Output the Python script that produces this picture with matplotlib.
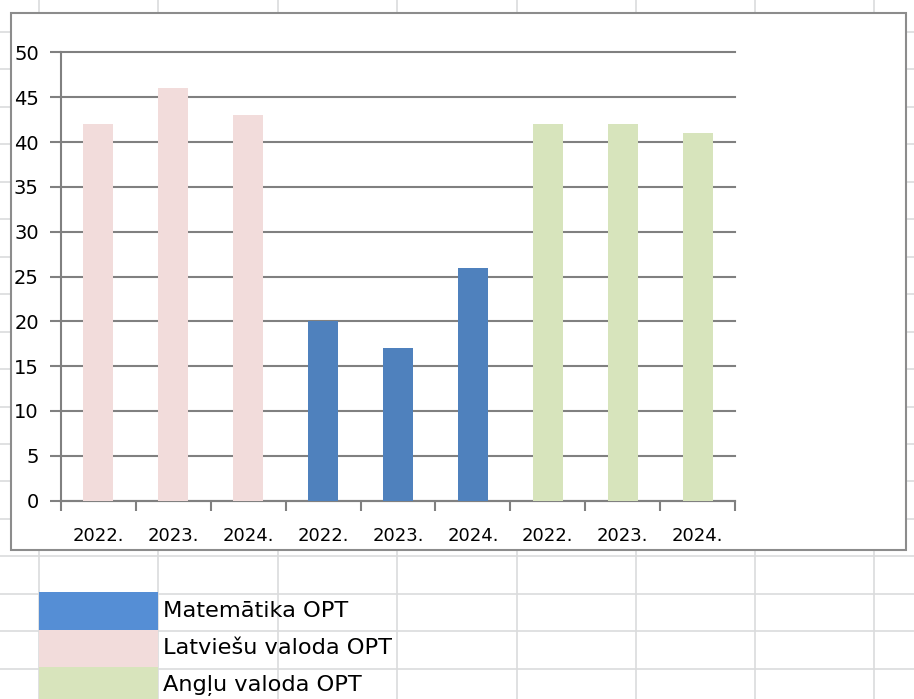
import matplotlib.pyplot as plt
from matplotlib.patches import Rectangle
from matplotlib.lines import Line2D

W, H = 914, 699

years = ["2022.", "2023.", "2024."] * 3
values = [42, 46, 43, 20, 17, 26, 42, 42, 41]
series = ["Matemātika OPT", "Latviešu valoda OPT", "Angļu valoda OPT"]
bar_colors = ["#F2DCDB"] * 3 + ["#4F81BD"] * 3 + ["#D7E4BC"] * 3
legend_colors = ["#558ED5", "#F2DCDB", "#D8E4BC"]
yticks = list(range(0, 55, 5))

plt.rcParams['font.family'] = ['DejaVu Sans']

fig = plt.figure(figsize=(W / 100, H / 100), dpi=100)
fig.patch.set_facecolor("white")


def fx(px):
    return px / W


def fy(py):
    return 1 - py / H


# spreadsheet cell grid behind the chart
col_x = [39, 158, 278, 397, 517, 636, 755, 874]
row_y = [32 + 37.45 * k for k in range(18)]
for x in col_x:
    fig.add_artist(Line2D([fx(x), fx(x)], [0, 1], color="#DADCDD", lw=1.2, zorder=0))
for y in row_y:
    fig.add_artist(Line2D([0, 1], [fy(y), fy(y)], color="#DADCDD", lw=1.2, zorder=0))

# chart area
fig.add_artist(Rectangle((fx(11), fy(550)), fx(906) - fx(11), fy(13) - fy(550),
                         facecolor="white", edgecolor="#8C8C8C", lw=1.5, zorder=1))

ax = fig.add_axes([fx(61), fy(500.5), fx(735) - fx(61), fy(52.5) - fy(500.5)], zorder=2)
ax.patch.set_alpha(0)

xs = list(range(len(values)))
ax.bar(xs, values, width=0.4, color=bar_colors, zorder=3)

ax.set_xlim(-0.5, len(values) - 0.5)
ax.set_ylim(0, 50)
ax.set_yticks(yticks)
ax.yaxis.grid(True, color="#808080", lw=1.5)
for gl in ax.get_ygridlines():
    gl.set_clip_on(False)
ax.set_axisbelow(True)

ax.set_xticks(xs)
ax.set_xticklabels(years)
ax.set_xticks([x - 0.5 for x in range(len(values) + 1)], minor=True)
ax.tick_params(axis="x", which="major", length=0, pad=19, labelsize=13, colors="black")
ax.tick_params(axis="x", which="minor", length=7, width=1.5, color="#808080", direction="out")
ax.tick_params(axis="y", length=8, width=1.5, color="#808080", pad=8, labelsize=14)

for s in ["top", "right"]:
    ax.spines[s].set_visible(False)
for s in ["left", "bottom"]:
    ax.spines[s].set_color("#808080")
    ax.spines[s].set_linewidth(1.5)

# legend cells in the sheet
cell_top = [592, 629.5, 667]
for name, color, top in zip(series, legend_colors, cell_top):
    fig.add_artist(Rectangle((fx(39), fy(top + 37.5)), fx(158) - fx(39), fy(top) - fy(top + 37.5),
                             facecolor=color, edgecolor="none", zorder=1))
    fig.text(fx(163), fy(top + 19), name, fontsize=16.2, va="center", ha="left", zorder=2)

fig.savefig("out.png", dpi=100)
